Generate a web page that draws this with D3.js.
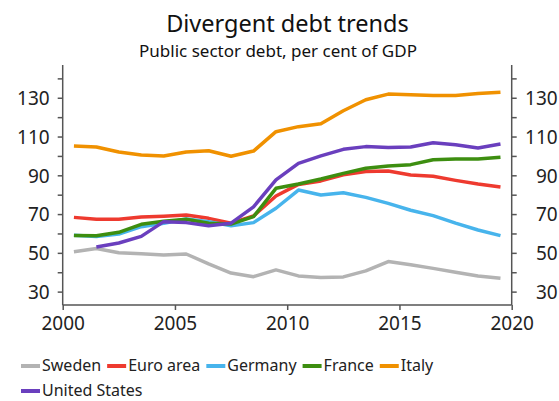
<!DOCTYPE html>
<html>
<head>
<meta charset="utf-8">
<script src="https://cdn.jsdelivr.net/npm/d3@7/dist/d3.min.js"></script>
<style>
  html, body { margin: 0; padding: 0; background: #fff; }
  svg { display: block; font-family: "Noto Sans", "Roboto", sans-serif; }
</style>
</head>
<body>
<svg id="chart" width="559" height="401"></svg>
<script>
// Public sector debt, per cent of GDP (annual, plotted at mid-year)
const years = d3.range(2000, 2020);
const sweden  = [50.6, 52.2, 50.1, 49.6, 48.9, 49.4, 44.3, 39.6, 37.7, 41.2, 38.1, 37.3, 37.6, 40.7, 45.5, 43.9, 42.0, 40.0, 38.1, 36.9];
const euroArea = [68.3, 67.3, 67.3, 68.5, 68.9, 69.5, 67.8, 65.3, 69.0, 79.3, 85.3, 87.1, 90.3, 92.0, 92.2, 90.2, 89.5, 87.4, 85.5, 84.0];
const germany = [59.1, 58.4, 59.7, 63.5, 65.3, 67.5, 66.1, 64.0, 65.6, 73.0, 82.4, 79.8, 81.0, 78.6, 75.5, 72.0, 69.2, 65.3, 61.8, 58.9];
const france  = [58.9, 58.8, 60.6, 64.7, 66.3, 67.3, 65.3, 64.9, 68.7, 83.3, 85.5, 88.1, 91.0, 93.6, 94.8, 95.5, 98.0, 98.4, 98.4, 99.3];
const italy   = [105.1, 104.6, 102.0, 100.5, 100.0, 102.0, 102.7, 99.8, 102.5, 112.5, 115.1, 116.6, 123.3, 129.0, 131.9, 131.5, 131.2, 131.2, 132.2, 132.9];
const unitedStates = [null, 53.0, 55.1, 58.5, 66.1, 65.6, 64.0, 65.3, 73.7, 87.6, 96.2, 100.0, 103.4, 104.8, 104.4, 104.6, 106.8, 105.8, 104.1, 106.1];

const seriesNames = ["Sweden", "Euro area", "Germany", "France", "Italy", "United States"];
const seriesValues = [sweden, euroArea, germany, france, italy, unitedStates];
const seriesColors = ["#b3b3b3", "#ee3a2f", "#47b4ec", "#3d8e10", "#f09100", "#6a3fbe"];

const xTicks = [2000, 2005, 2010, 2015, 2020];
const yTicks = [30, 50, 70, 90, 110, 130];
const yMinorTicks = d3.range(30, 141, 10);

const svg = d3.select("#chart");
const plotLeft = 62.7, plotRight = 511.7, plotTop = 65, plotBottom = 305;

const x = d3.scaleLinear().domain([2000, 2020]).range([plotLeft, plotRight]);
const y = d3.scaleLinear().domain([23.1, 146.9]).range([plotBottom, plotTop]);

const axisColor = "#555";
const textColor = "#222";
const fontFamily = "'Noto Sans', Roboto, sans-serif";

// Titles
svg.append("text").attr("x", 287.5).attr("y", 32)
  .attr("text-anchor", "middle").attr("font-size", 23.5).attr("fill", "#111")
  .text("Divergent debt trends");
svg.append("text").attr("x", 278).attr("y", 57)
  .attr("text-anchor", "middle").attr("font-size", 17).attr("fill", "#111")
  .text("Public sector debt, per cent of GDP");

// Axes
function styleAxis(g) {
  g.selectAll("path.domain").attr("stroke", axisColor).attr("stroke-width", 1.5);
  g.selectAll(".tick line").attr("stroke", axisColor).attr("stroke-width", 1.5);
  g.selectAll(".tick text").attr("fill", textColor).attr("font-size", 19)
    .attr("font-family", fontFamily);
}

const leftAxis = svg.append("g").attr("transform", `translate(${plotLeft},0)`)
  .call(d3.axisLeft(y).tickValues(yMinorTicks).tickSize(5).tickSizeOuter(0)
    .tickFormat(d => yTicks.includes(d) ? d : ""));
leftAxis.select("path.domain").attr("d", `M0,${plotBottom}V${plotTop}`);
leftAxis.selectAll(".tick text").attr("x", -13).attr("dy", "0.36em");
styleAxis(leftAxis);

const rightAxis = svg.append("g").attr("transform", `translate(${plotRight},0)`)
  .call(d3.axisRight(y).tickValues(yMinorTicks).tickSize(5).tickSizeOuter(0)
    .tickFormat(d => yTicks.includes(d) ? d : ""));
rightAxis.select("path.domain").attr("d", `M0,${plotBottom}V${plotTop}`);
rightAxis.selectAll(".tick text").attr("text-anchor", "end").attr("x", 46).attr("dy", "0.36em");
styleAxis(rightAxis);

const bottomAxis = svg.append("g").attr("transform", `translate(0,${plotBottom})`)
  .call(d3.axisBottom(x).tickValues(xTicks).tickSize(5).tickSizeOuter(0).tickFormat(d3.format("d")));
bottomAxis.select("path.domain").attr("d", `M${plotLeft},0H${plotRight}`);
bottomAxis.selectAll(".tick text").attr("y", 12).attr("dy", "0.71em");
styleAxis(bottomAxis);

// Lines
const line = d3.line()
  .defined(d => d.v != null)
  .x(d => x(d.year + 0.5))
  .y(d => y(d.v));

seriesValues.forEach((vals, i) => {
  const data = years.map((yr, j) => ({ year: yr, v: vals[j] }));
  svg.append("path").datum(data)
    .attr("fill", "none")
    .attr("stroke", seriesColors[i])
    .attr("stroke-width", 3.5)
    .attr("stroke-linejoin", "round")
    .attr("d", line);
});

// Legend (flowing, wraps to a new row)
const legend = svg.append("g");
let lx = 21, ly = 371;
const maxX = 460, rowH = 25;
seriesNames.forEach((name, i) => {
  const g = legend.append("g");
  g.append("line").attr("x1", 0).attr("x2", 19).attr("y1", -5).attr("y2", -5)
    .attr("stroke", seriesColors[i]).attr("stroke-width", 4);
  const t = g.append("text").attr("x", 21).attr("y", 0)
    .attr("font-size", 16).attr("fill", textColor).text(name);
  const w = 21 + t.node().getComputedTextLength();
  if (lx + w > maxX && lx > 21) { lx = 21; ly += rowH; }
  g.attr("transform", `translate(${lx},${ly})`);
  lx += w + 6;
});
</script>
</body>
</html>
